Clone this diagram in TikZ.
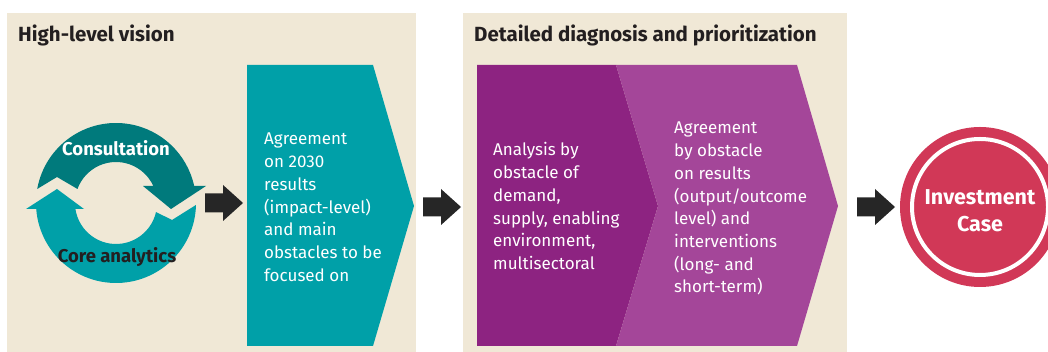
\documentclass[tikz,border=0pt]{standalone}
\usepackage{fontspec}
\setmainfont{Fira Sans}

\definecolor{panelbg}{HTML}{F0E8D6}
\definecolor{tealdark}{HTML}{007A7C}
\definecolor{teallight}{HTML}{00A0A8}
\definecolor{purpdark}{HTML}{8D2381}
\definecolor{purplight}{HTML}{A44699}
\definecolor{invred}{HTML}{D13857}
\definecolor{arrowblack}{HTML}{262626}
\definecolor{textdark}{HTML}{231F20}

\tikzset{
  title/.style={anchor=base west, inner sep=0, text=textdark,
    font=\fontsize{20.5}{24}\selectfont\bfseries},
  chevtext/.style={anchor=base west, inner sep=0, align=left, text=white,
    font=\fontsize{17}{22.7}\selectfont},
  cyclelabel/.style={anchor=base, inner sep=0, font=\fontsize{18.5}{22}\selectfont\bfseries},
  blockarrow/.style={fill=arrowblack}
}

\begin{document}
\begin{tikzpicture}[x=1pt,y=1pt]
  \useasboundingbox (0,0) rectangle (1048,352);
  \fill[panelbg] (7,0) rectangle (416,339);
  \fill[panelbg] (463,0) rectangle (847,339);
  \node[title] (visiontitle) at (18,310) {High-level vision};
  \node[title] (diagtitle) at (474,310) {Detailed diagnosis and prioritization};

  % the two turning arrows
  \begin{scope}[shift={(116,149)}]
    \fill[tealdark] (169.9:80) arc[start angle=169.9, end angle=12.3, radius=80]
      -- (90,17) -- (55,-6) -- (27,17) -- (24.5:41)
      arc[start angle=24.5, end angle=160, radius=41] -- (-59,26) -- cycle;
    \fill[teallight] (188.4:41) arc[start angle=188.4, end angle=347.3, radius=41]
      -- (56,-17) -- (358.6:80) arc[start angle=358.6, end angle=184.3, radius=80]
      -- (-90,-6) -- (-59,14) -- (-32,-6) -- cycle;
  \end{scope}
  \node[cyclelabel, text=white] (consult) at (116,196) {Consultation};
  \node[cyclelabel, text=textdark] (coreana) at (117,89) {Core analytics};

  % chevrons
  \fill[teallight] (247,287) -- (373,287) -- (414,146) -- (373,6) -- (247,6) -- cycle;
  \fill[purpdark] (477,287) -- (616,287) -- (658,146) -- (616,6) -- (477,6) -- cycle;
  \fill[purplight] (616,287) -- (797,287) -- (838,146) -- (797,6) -- (616,6) -- (658,146) -- cycle;
  % base anchor sits on the last line
  \node[chevtext] (agreeA) at (264,70.8)
    {Agreement\\on 2030\\results\\(impact-level)\\and main\\obstacles to be\\focused on};
  \node[chevtext] (analysis) at (493,82.5)
    {Analysis by\\obstacle of\\demand,\\supply, enabling\\environment,\\multisectoral};
  \node[chevtext] (agreeB) at (674,59.1)
    {Agreement\\by obstacle\\on results\\(output/outcome\\level) and\\interventions\\(long- and\\short-term)};

  % block arrows
  \coordinate (arrA) at (205,149);
  \coordinate (arrB) at (423,145);
  \coordinate (arrC) at (857,145);
  \foreach \a in {arrA,arrB,arrC}
    \fill[blockarrow] (\a) ++(0,9.5) -- ++(18,0) -- ++(0,8.5) -- ++(20,-18)
      -- ++(-20,-18) -- ++(0,8.5) -- ++(-18,0) -- cycle;

  % investment case
  \coordinate (invc) at (980,145);
  \fill[invred] (invc) circle[radius=80];
  \draw[white, line width=4] (invc) circle[radius=68];
  \node[anchor=base, inner sep=0, align=center, text=white,
    font=\fontsize{21.5}{27}\selectfont\bfseries] (invtext) at (980,120)
    {Investment\\Case};
\end{tikzpicture}
\end{document}
